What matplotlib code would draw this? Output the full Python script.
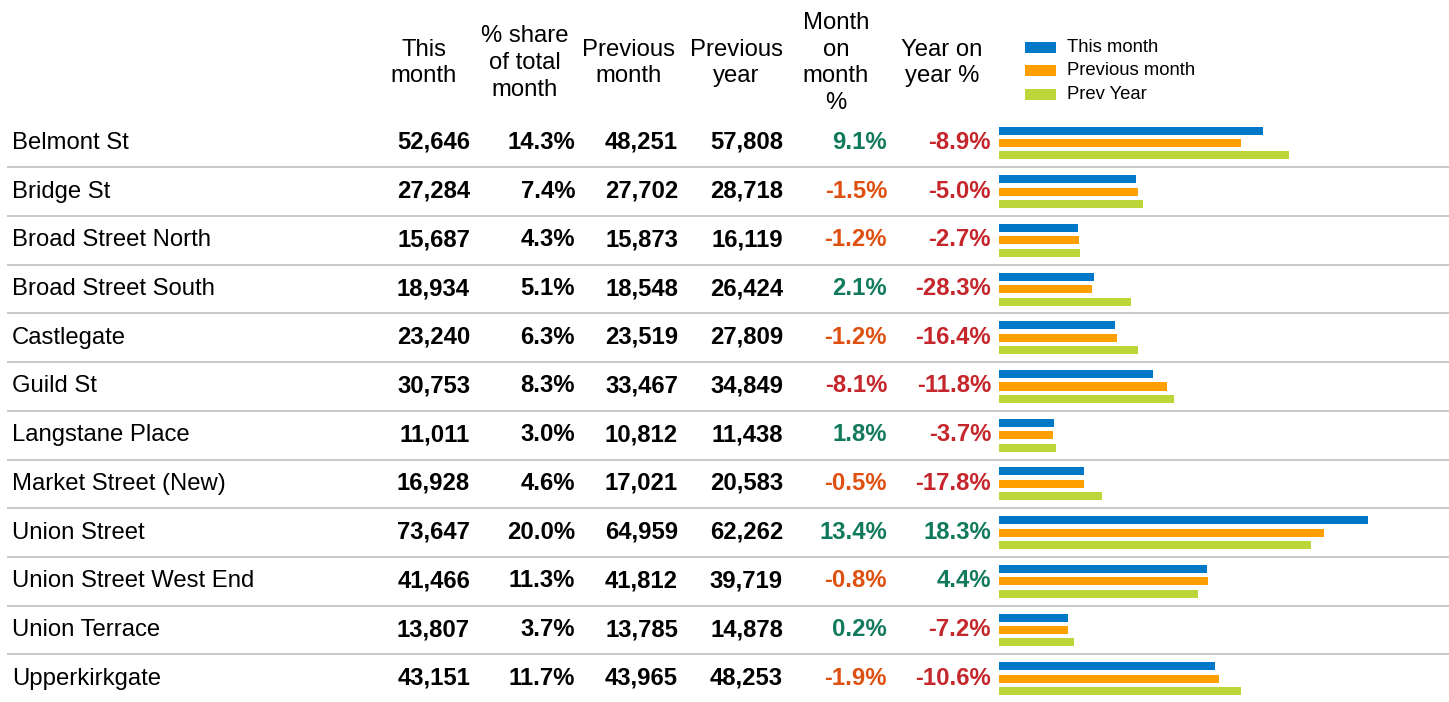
import matplotlib
matplotlib.use("Agg")
import matplotlib.pyplot as plt
from matplotlib.patches import Rectangle

plt.rcParams['font.family'] = ['Liberation Sans', 'DejaVu Sans']

streets = ["Belmont St", "Bridge St", "Broad Street North", "Broad Street South",
           "Castlegate", "Guild St", "Langstane Place", "Market Street (New)",
           "Union Street", "Union Street West End", "Union Terrace", "Upperkirkgate"]
this_month = [52646, 27284, 15687, 18934, 23240, 30753, 11011, 16928, 73647, 41466, 13807, 43151]
share_pct = [14.3, 7.4, 4.3, 5.1, 6.3, 8.3, 3.0, 4.6, 20.0, 11.3, 3.7, 11.7]
prev_month = [48251, 27702, 15873, 18548, 23519, 33467, 10812, 17021, 64959, 41812, 13785, 43965]
prev_year = [57808, 28718, 16119, 26424, 27809, 34849, 11438, 20583, 62262, 39719, 14878, 48253]
mom_pct = [9.1, -1.5, -1.2, 2.1, -1.2, -8.1, 1.8, -0.5, 13.4, -0.8, 0.2, -1.9]
yoy_pct = [-8.9, -5.0, -2.7, -28.3, -16.4, -11.8, -3.7, -17.8, 18.3, 4.4, -7.2, -10.6]

headers = ["This\nmonth", "% share\nof total\nmonth", "Previous\nmonth", "Previous\nyear",
           "Month\non\nmonth\n%", "Year on\nyear %"]
series_names = ["This month", "Previous month", "Prev Year"]

C_BLUE = "#0078c8"
C_ORANGE = "#ffa000"
C_GREEN = "#bcd63a"
T_GREEN = "#127a5c"
T_ORANGE = "#de5010"
T_RED = "#c4262b"

W, H = 1449, 702
fig = plt.figure(figsize=(W / 100, H / 100), dpi=100)

ROW0 = 143.0
ROWH = 48.7
n = len(streets)

def row_y(i):
    return ROW0 + ROWH * i

# text / layout axes in pixel coordinates
ax = fig.add_axes([0, 0, 1, 1])
ax.set_xlim(0, W)
ax.set_ylim(H, 0)
ax.axis("off")

FS = 17.2
col_right = [470, 575, 678, 783, 887, 991]
col_center = [424, 525, 629, 736, 836, 942]

for c, h in zip(col_center, headers):
    ax.text(c, 63, h, ha="center", va="center", fontsize=FS, linespacing=1.27, color="black")

def pct_color(v, orange_thr):
    if v >= 0:
        return T_GREEN
    if v > orange_thr:
        return T_ORANGE
    return T_RED

for i in range(n):
    y = row_y(i)
    yb = y + 6
    ax.text(12, yb, streets[i], ha="left", va="baseline", fontsize=FS, color="black")
    vals = [f"{this_month[i]:,}", f"{share_pct[i]:.1f}%", f"{prev_month[i]:,}",
            f"{prev_year[i]:,}"]
    for x, s in zip(col_right[:4], vals):
        ax.text(x, yb, s, ha="right", va="baseline", fontsize=FS, fontweight="bold", color="black")
    ax.text(col_right[4], yb, f"{mom_pct[i]:.1f}%", ha="right", va="baseline", fontsize=FS,
            fontweight="bold", color=pct_color(mom_pct[i], -5))
    ax.text(col_right[5], yb, f"{yoy_pct[i]:.1f}%", ha="right", va="baseline", fontsize=FS,
            fontweight="bold", color=pct_color(yoy_pct[i], -2))
    if i < n - 1:
        ax.plot([7, W], [y + ROWH / 2, y + ROWH / 2], color="#c8c8c8", lw=1.4,
                solid_capstyle="butt")

# legend
for k, (name, col) in enumerate(zip(series_names, [C_BLUE, C_ORANGE, C_GREEN])):
    yc = 47 + 23.8 * k
    ax.add_patch(Rectangle((1025, yc - 5.5), 31, 11, facecolor=col, edgecolor="none"))
    ax.text(1067, yc, name, ha="left", va="center", fontsize=13.3, color="black")

# bar axes
left_px = 999
bx = fig.add_axes([left_px / W, 0, (W - left_px) / W, 1])
bx.set_xlim(0, (W - left_px) / (369.0 / 73647))
bx.set_ylim((H - ROW0) / ROWH, -ROW0 / ROWH)
bx.axis("off")
bx.patch.set_alpha(0)

idx = list(range(n))
bh = 0.165
off = 0.255
bx.barh([i - off for i in idx], this_month, height=bh, color=C_BLUE, left=0)
bx.barh(idx, prev_month, height=bh, color=C_ORANGE, left=0)
bx.barh([i + off for i in idx], prev_year, height=bh, color=C_GREEN, left=0)

fig.savefig("out.png", dpi=100)
